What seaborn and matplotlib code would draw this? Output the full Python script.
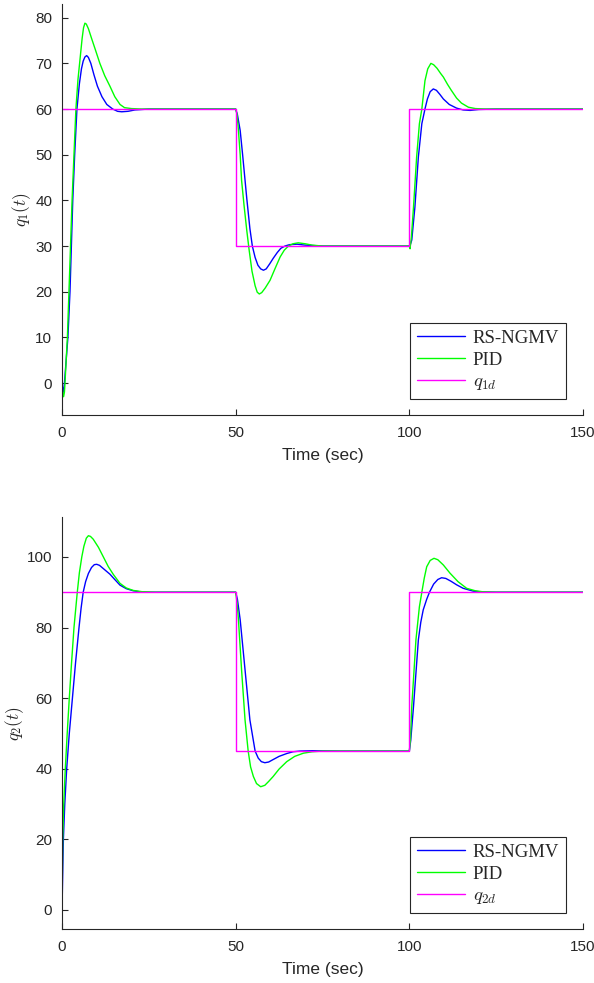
import numpy as np
import pandas as pd
import matplotlib
matplotlib.use("Agg")
import matplotlib.pyplot as plt
import seaborn as sns

# ---------------- data ----------------
t_ref = [0, 50, 50, 100, 100, 150]
q1_ref = [60, 60, 30, 30, 60, 60]
q2_ref = [90, 90, 45, 45, 90, 90]

t_q1_rs = [0, 0.2, 0.4, 0.7, 1.2, 1.7, 2.3, 2.7, 3.1, 3.65, 4.3, 5.0, 5.6, 6.1, 6.6, 7.1, 7.6, 8.3, 9.2,
           10.2, 11.5, 12.9, 14.6, 16.0, 17.2, 19, 21, 25, 50,
           50.5, 51.3, 52.0, 52.7, 53.2, 54.1, 54.8, 55.6, 56.4, 57.2, 58.0, 58.8, 59.8, 60.8, 62.0, 63.0,
           64.2, 65.5, 67.7, 70, 75, 100,
           100.2, 100.7, 101.6, 102.6, 103.6, 104.5, 105.2, 106.0, 106.9, 107.8, 108.8, 109.8, 111.5,
           113.6, 115.5, 117.5, 120, 125, 150]
q1_rs = [0, -1.5, -2, 0, 5, 10, 20, 30, 40, 50, 60, 65.5, 68.8, 70.5, 71.4, 71.7, 71.3, 70, 67.5,
         65, 62.7, 61, 60, 59.5, 59.4, 59.5, 59.8, 60, 60,
         58.8, 55.3, 50, 44.4, 40.4, 33.8, 30, 27.5, 25.8, 25.0, 24.7, 25.0, 26.1, 27.3, 28.6, 29.5,
         30, 30.3, 30.4, 30.2, 30, 30,
         30.1, 31.3, 38.5, 49.5, 56.8, 60, 62.2, 63.8, 64.4, 64.1, 63.2, 62.2, 61,
         60.2, 59.8, 59.7, 59.9, 60, 60]

t_q1_pid = [0, 0.2, 0.45, 0.7, 0.86, 1.2, 1.55, 2.0, 2.45, 2.9, 3.45, 4.0, 4.6, 5.2, 5.8, 6.2, 6.6, 7.0,
            7.6, 8.5, 9.6, 10.9, 12.3, 13.8, 15.2, 16.7, 18.0, 20, 23, 50,
            50.4, 50.8, 51.3, 51.7, 52.4, 53.2, 53.9, 54.7, 55.6, 56.2, 56.8, 57.5, 58.5, 59.9, 61.3,
            62.8, 64.0, 65.2, 66.5, 68, 70, 72, 75, 100,
            100.2, 100.6, 101.2, 102.1, 102.9, 103.6, 104.5, 105.3, 106.2, 107.0, 108, 109, 109.8,
            111, 112, 113.6, 115, 117, 119, 122, 150]
q1_pid = [0, -2, -3, -2, 0, 5, 10, 20, 30, 40, 50, 60, 66.5, 71, 75.5, 77.8, 78.8, 78.6,
          77.6, 75.5, 73, 70, 67.3, 65, 62.7, 61, 60.3, 60.1, 60, 60,
          58.8, 55.3, 50, 44.4, 39, 33.4, 29, 24.5, 21.3, 19.9, 19.5, 19.8, 20.8, 22.5, 25,
          27.6, 29.1, 30, 30.5, 30.7, 30.5, 30.2, 30, 30,
          29.4, 32, 38.5, 49.5, 56.8, 60, 66.2, 68.8, 70.0, 69.7, 68.9, 67.8, 67,
          65.4, 64.2, 62.4, 61.3, 60.4, 60.1, 60, 60]

t_q2_rs = [0, 0.4, 0.8, 1.35, 2.1, 3.0, 3.9, 4.9, 5.5, 6.1, 6.8, 7.6, 8.5, 9.3, 10.0, 10.8, 12, 13.8,
           15, 16.7, 18.5, 20.5, 22.5, 25, 50,
           50.5, 51.3, 52.7, 54.1, 55.6, 56.5, 57.4, 58.4, 59.5, 60.8, 62.5, 64.7, 66.5, 68.5, 72, 80, 100,
           100.4, 101.2, 102.6, 103.3, 104.0, 105, 105.8, 107, 108.2, 109.3, 110.5, 112, 113.6, 115.5,
           118.4, 121, 125, 150]
q2_rs = [0, 20, 30, 40, 50, 60, 70, 80, 85.5, 90, 93, 95.3, 97, 97.8, 97.9, 97.6, 96.6, 95.1,
         93.8, 92, 91, 90.4, 90.1, 90, 90,
         88, 82.2, 68, 53.8, 45, 43, 42, 41.7, 41.9, 42.6, 43.5, 44.3, 44.8, 45, 45.1, 45, 45,
         48, 57.6, 76.5, 81.5, 85, 88, 90, 92.3, 93.6, 94.1, 93.9, 93.1, 92.1, 91.1,
         90.3, 90.05, 90, 90]

t_q2_pid = [0, 0.2, 0.5, 0.95, 1.5, 2.1, 2.75, 3.45, 4.4, 5.0, 5.7, 6.3, 7.0, 7.6, 8.2, 9.0, 10.5, 11.9,
            13.3, 14.8, 16.7, 18.5, 20.5, 23, 27, 50,
            50.4, 50.8, 51.7, 52.7, 53.6, 54.3, 55.1, 56.0, 57.2, 58.4, 59.5, 60.8, 62.5, 64.7, 67,
            69.5, 72, 75, 100,
            100.3, 100.7, 101.3, 101.9, 102.9, 103.6, 104.3, 105, 106, 107.1, 108.2, 109.8, 111.7, 114,
            116.5, 119, 121.3, 125, 150]
q2_pid = [0, 20, 30, 40, 50, 60, 70, 80, 90, 95.5, 100, 103, 105.3, 106, 105.8, 105, 102.7, 100,
          97.3, 95, 92.5, 91.2, 90.5, 90.15, 90, 90,
          87, 82.2, 68, 53.8, 45, 40.5, 37.8, 35.8, 34.9, 35.3, 36.4, 37.8, 39.9, 42, 43.5,
          44.4, 44.8, 45, 45,
          48, 57.6, 67, 76.5, 85.9, 90, 94, 97.2, 99, 99.6, 99.2, 97.7, 95.4, 93,
          91.1, 90.4, 90.1, 90, 90]

x_ticks = [0, 50, 100, 150]
y1_ticks = [0, 10, 20, 30, 40, 50, 60, 70, 80]
y2_ticks = [0, 20, 40, 60, 80, 100]
legend1 = ["RS-NGMV", "PID", r"$q_{1d}$"]
legend2 = ["RS-NGMV", "PID", r"$q_{2d}$"]
xlabel = "Time (sec)"
ylabel1 = r"$q_1(t)$"
ylabel2 = r"$q_2(t)$"

# ---------------- style ----------------
sns.set_style("ticks")
plt.rcParams["font.family"] = ["Liberation Sans", "DejaVu Sans"]
plt.rcParams["mathtext.fontset"] = "cm"
plt.rcParams["axes.edgecolor"] = "#262626"
plt.rcParams["xtick.color"] = "#262626"
plt.rcParams["ytick.color"] = "#262626"
plt.rcParams["xtick.direction"] = "in"
plt.rcParams["ytick.direction"] = "in"

fig = plt.figure(figsize=(5.94, 9.83), dpi=100)
ax1 = fig.add_axes([62 / 594, 1 - 415 / 983, 521 / 594, 411 / 983])
ax2 = fig.add_axes([62 / 594, 1 - 929 / 983, 521 / 594, 412 / 983])

BLUE, GREEN, MAG = "#0000FF", "#00FF00", "#FF00FF"


def draw(ax, t_rs, v_rs, t_pid, v_pid, v_ref, labels, yticks, ylim, ylabel, ylab_x):
    sns.lineplot(x=t_rs, y=v_rs, ax=ax, color=BLUE, lw=1.0, label=labels[0], sort=False, estimator=None)
    sns.lineplot(x=t_pid, y=v_pid, ax=ax, color=GREEN, lw=1.0, label=labels[1], sort=False, estimator=None)
    sns.lineplot(x=t_ref, y=v_ref, ax=ax, color=MAG, lw=1.0, label=labels[2], sort=False, estimator=None)
    ax.set_xlim(0, 150)
    ax.set_ylim(*ylim)
    ax.set_xticks(x_ticks)
    ax.set_yticks(yticks)
    ax.tick_params(labelsize=11, length=4.5, width=0.8)
    ax.tick_params(axis="x", pad=8)
    ax.tick_params(axis="y", pad=7)
    sns.despine(ax=ax)
    ax.set_xlabel(xlabel, fontsize=12.5, labelpad=6)
    ax.set_ylabel(ylabel, fontsize=12.5)
    ax.yaxis.set_label_coords(ylab_x, 0.5)
    leg = ax.legend(loc="lower right", bbox_to_anchor=(0.967, 0.039), borderaxespad=0, frameon=True,
                    fancybox=False, framealpha=1, edgecolor="#262626", handlelength=2.6, borderpad=0.35,
                    labelspacing=0.25, handletextpad=0.4,
                    prop={"family": ["Liberation Serif", "DejaVu Serif"], "size": 13.5})
    leg.get_frame().set_linewidth(0.8)


draw(ax1, t_q1_rs, q1_rs, t_q1_pid, q1_pid, q1_ref, legend1, y1_ticks, (-7, 83), ylabel1, -0.056)
draw(ax2, t_q2_rs, q2_rs, t_q2_pid, q2_pid, q2_ref, legend2, y2_ticks, (-5.4, 111.3), ylabel2, -0.07)

fig.savefig("out.png", dpi=100)
